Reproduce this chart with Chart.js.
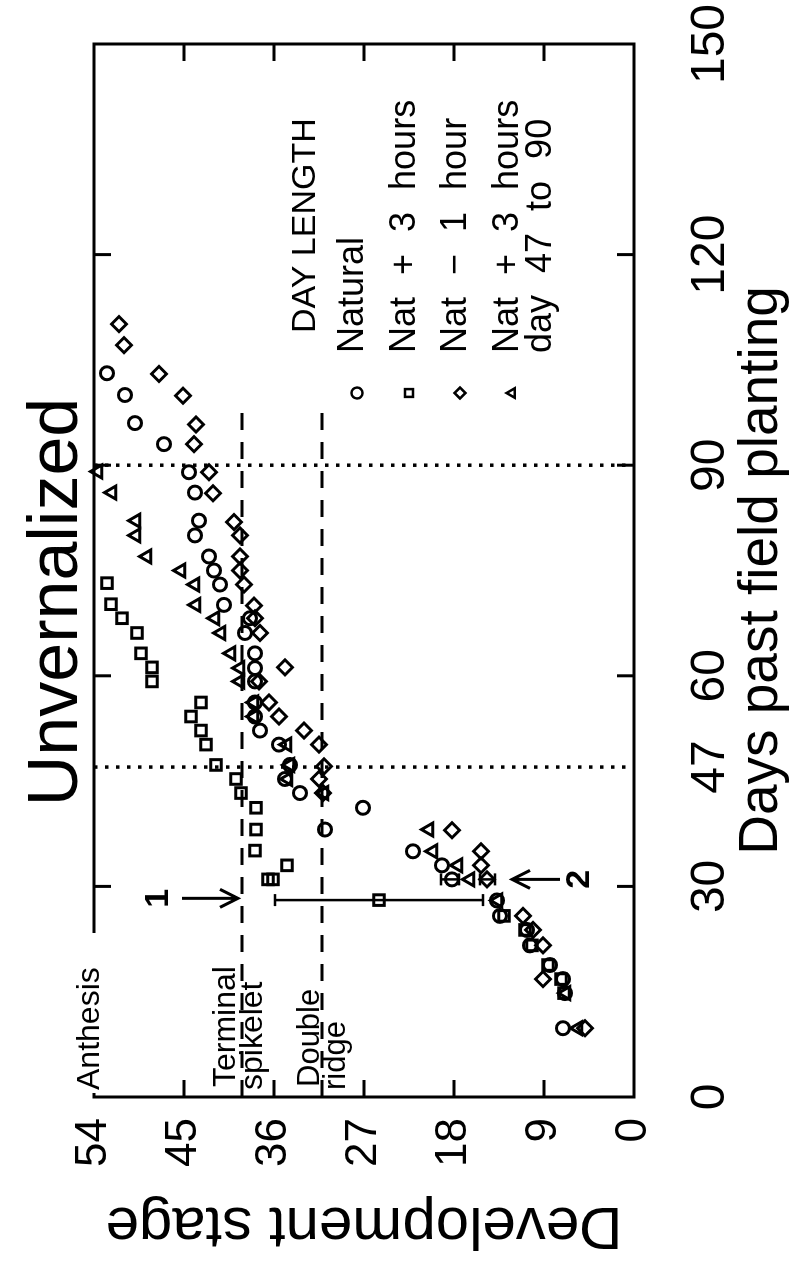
<!DOCTYPE html>
<html>
<head>
<meta charset="utf-8">
<script src="https://cdn.jsdelivr.net/npm/chart.js@4"></script>
<style>
  html, body { margin: 0; padding: 0; background: #fff; overflow: hidden; }
  /* the figure is printed turned a quarter turn, so draw it flat and rotate */
  #wrap { position: absolute; left: 0; top: 1271px; width: 1271px; height: 789px;
          transform-origin: 0 0; transform: rotate(-90deg); }
</style>
</head>
<body>
<div id="wrap"><canvas id="chart" width="1271" height="789"></canvas></div>
<script>
// Development stage vs days past field planting, unvernalized wheat.
const dayTicks = [0, 30, 47, 60, 90, 120, 150];
const stageTicks = [0, 9, 18, 27, 36, 45, 54];
const innerTickDays = [30, 60, 90, 120];
const innerTickStages = [9, 18, 27, 36, 45];

const seriesLabels = [["Natural"], ["Nat + 3 hours"], ["Nat \u2212 1 hour"], ["Nat + 3 hours", "day 47 to 90"]];

// Natural (circles)
const naturalDays = [103.1, 100, 96, 93, 89, 86.1, 82.1, 80, 77, 75, 73, 70.1, 68.2, 66.1, 63.2, 61.1, 59.2, 56.2, 54.2, 52.2, 50.2, 47.3, 45.3, 43.3, 41.2, 38.1, 35.0, 33.0, 31.0, 28.0, 25.8, 23.8, 21.6, 18.8, 16.8, 14.8, 9.8];
const naturalStage = [52.7, 50.9, 49.9, 47.0, 44.5, 43.9, 43.5, 43.9, 42.5, 42.0, 41.4, 41.0, 38.4, 38.9, 37.9, 37.9, 37.9, 37.9, 37.9, 37.4, 35.5, 34.4, 34.9, 33.4, 27.1, 30.9, 22.1, 19.2, 18.2, 13.7, 13.4, 10.7, 10.4, 8.4, 7.1, 6.9, 7.1];

// Nat + 3 hours (squares)
const plus3Days = [73.2, 70.2, 68.2, 66.1, 63.2, 61.2, 59.2, 56.2, 54.2, 52.2, 50.2, 47.3, 45.3, 43.3, 41.2, 38.1, 35.1, 33.0, 31.0, 31.0, 28.05, 25.8, 23.8, 21.6, 18.8, 16.8, 14.8];
const plus3Stage = [52.7, 52.3, 51.2, 49.7, 49.3, 48.2, 48.2, 43.3, 44.3, 43.3, 42.8, 41.8, 39.8, 39.3, 37.8, 37.8, 37.9, 34.7, 36.6, 36.1, 25.5, 13.0, 10.9, 10.2, 8.6, 7.3, 7.0];

// Nat - 1 hour (diamonds)
const minus1Days = [110.1, 107.1, 103, 99.9, 95.8, 93, 89, 86, 81.9, 80, 77, 75, 73, 70, 68.2, 66.1, 61.2, 59.2, 56.2, 54.2, 52.2, 50.2, 47.1, 45.3, 43.3, 38.0, 35.0, 33.0, 31.0, 25.8, 23.8, 21.6, 16.8, 9.8];
const minus1Stage = [51.5, 51.0, 47.5, 45.1, 43.8, 44.0, 42.5, 42.1, 40.0, 39.4, 39.4, 39.4, 39.0, 38.0, 37.9, 37.4, 34.9, 37.5, 36.5, 35.5, 33.0, 31.5, 31.0, 31.5, 31.1, 18.2, 15.3, 15.3, 14.7, 11.1, 10.1, 9.1, 9.1, 4.9];

// Nat + 3 hours from day 47 to 90 (triangles)
const switchDays = [89.1, 86.1, 82.1, 80, 77, 75, 73, 70.1, 68.2, 66.1, 63.2, 61.1, 59.2, 56.2, 54.2, 50.2, 47.3, 45.3, 43.3, 38.1, 35.0, 33.0, 31.0, 28.0, 14.8, 9.8];
const switchStage = [53.6, 52.2, 49.8, 49.8, 48.7, 45.3, 43.9, 43.8, 41.9, 41.3, 40.3, 39.4, 39.4, 38.0, 38.0, 34.7, 34.4, 34.6, 31.0, 20.5, 20.1, 17.6, 16.4, 13.6, 6.8, 5.6];

// stage reference lines (terminal spikelet, double ridge) and day markers
const stageLines = [39.2, 31.2];
const stageLineEndDay = 97.5;
const dottedDays = [47, 90];

// error bars
const errDays = [28.05, 31.0, 31.0];
const errLow = [15.1, 17.5, 13.9];
const errHigh = [35.9, 19.3, 15.4];

// arrows "1" and "2"
const arrowDays = [28.3, 31.0];
const arrowFrom = [45.2, 7.4];
const arrowTo = [39.6, 12.2];
const arrowText = ["1", "2"];
const arrowTextStage = [47.5, 5.4];

const FONT = "'Liberation Sans', Arial, sans-serif";
const pts = (d, s) => d.map((x, i) => ({ x, y: s[i] }));

const styles = [
  { pointStyle: "circle", radius: 6.5 },
  { pointStyle: "rect", radius: 7.5 },
  { pointStyle: "rectRot", radius: 7.5 },
  { pointStyle: "triangle", radius: 7.5 },
];
const seriesData = [
  pts(naturalDays, naturalStage),
  pts(plus3Days, plus3Stage),
  pts(minus1Days, minus1Stage),
  pts(switchDays, switchStage),
];

const datasets = seriesData.map((data, i) => ({
  label: seriesLabels[i].join(" "),
  data,
  showLine: false,
  clip: false,
  pointStyle: styles[i].pointStyle,
  pointRadius: styles[i].radius,
  pointHoverRadius: styles[i].radius,
  pointBorderWidth: 3,
  pointBorderColor: "#000",
  pointBackgroundColor: "rgba(0,0,0,0)",
}));

function text(ctx, str, u, v, size, align, weight) {
  ctx.font = (weight || "normal") + " " + size + "px " + FONT;
  ctx.textAlign = align || "left";
  ctx.fillText(str, u, v);
}

const decor = {
  id: "decor",
  beforeDatasetsDraw(chart) {
    const { ctx, scales: { x, y } } = chart;
    ctx.save();
    ctx.strokeStyle = "#000";
    ctx.lineCap = "butt";

    ctx.lineWidth = 3;
    ctx.setLineDash([17, 12]);
    stageLines.forEach((s) => {
      ctx.beginPath();
      ctx.moveTo(x.getPixelForValue(0), y.getPixelForValue(s));
      ctx.lineTo(x.getPixelForValue(stageLineEndDay), y.getPixelForValue(s));
      ctx.stroke();
    });

    ctx.lineWidth = 3.5;
    ctx.setLineDash([3.5, 7.5]);
    dottedDays.forEach((d) => {
      ctx.beginPath();
      ctx.moveTo(x.getPixelForValue(d), y.getPixelForValue(54));
      ctx.lineTo(x.getPixelForValue(d), y.getPixelForValue(0));
      ctx.stroke();
    });
    ctx.setLineDash([]);

    ctx.lineWidth = 2.5;
    errDays.forEach((d, i) => {
      const px = x.getPixelForValue(d);
      const lo = y.getPixelForValue(errLow[i]);
      const hi = y.getPixelForValue(errHigh[i]);
      ctx.beginPath();
      ctx.moveTo(px, lo); ctx.lineTo(px, hi);
      ctx.moveTo(px - 6, lo); ctx.lineTo(px + 6, lo);
      ctx.moveTo(px - 6, hi); ctx.lineTo(px + 6, hi);
      ctx.stroke();
    });
    ctx.restore();
  },
  afterDraw(chart) {
    const { ctx, chartArea: a, scales: { x, y } } = chart;
    ctx.save();
    ctx.strokeStyle = "#000";
    ctx.fillStyle = "#000";

    // frame and inward ticks
    ctx.lineWidth = 3;
    ctx.strokeRect(a.left, a.top, a.right - a.left, a.bottom - a.top);
    ctx.beginPath();
    innerTickDays.forEach((d) => {
      const px = x.getPixelForValue(d);
      ctx.moveTo(px, a.top); ctx.lineTo(px, a.top + 17);
      ctx.moveTo(px, a.bottom); ctx.lineTo(px, a.bottom - 17);
    });
    innerTickStages.forEach((s) => {
      const py = y.getPixelForValue(s);
      ctx.moveTo(a.left, py); ctx.lineTo(a.left + 17, py);
      ctx.moveTo(a.right, py); ctx.lineTo(a.right - 17, py);
    });
    ctx.stroke();

    // arrows with labels
    arrowDays.forEach((d, i) => {
      const px = x.getPixelForValue(d);
      const p0 = y.getPixelForValue(arrowFrom[i]);
      const p1 = y.getPixelForValue(arrowTo[i]);
      const dir = p1 > p0 ? 1 : -1;
      ctx.lineWidth = 3;
      ctx.beginPath();
      ctx.moveTo(px, p0); ctx.lineTo(px, p1);
      ctx.moveTo(px - 9, p1 - dir * 18); ctx.lineTo(px, p1); ctx.lineTo(px + 9, p1 - dir * 18);
      ctx.stroke();
      ctx.textBaseline = "middle";
      text(ctx, arrowText[i], px, y.getPixelForValue(arrowTextStage[i]), 34, "center", "bold");
    });
    ctx.textBaseline = "alphabetic";

    // stage names
    ctx.fillStyle = "#fff";
    ctx.fillRect(178, 86, 160, 14);
    ctx.fillStyle = "#000";
    text(ctx, "Anthesis", 181, 99, 32);
    text(ctx, "Terminal", 184, 235, 32);
    text(ctx, "spikelet", 181, 262, 32);
    text(ctx, "Double", 184, 319, 31);
    text(ctx, "ridge", 181, 345, 31);

    // title
    text(ctx, "Unvernalized", 669, 77, 70, "center");

    // key
    text(ctx, "DAY LENGTH", 938, 315, 34);
    const keyV = [357, 409, 460, 512];
    chart.data.datasets.forEach((ds, i) => {
      ctx.lineWidth = 2.5;
      ctx.fillStyle = "rgba(0,0,0,0)";
      Chart.helpers.drawPoint(ctx, { pointStyle: ds.pointStyle, radius: 5.5, borderWidth: 2.5, rotation: 0 }, 878, keyV[i]);
      ctx.fillStyle = "#000";
      ctx.wordSpacing = "12px";
      seriesLabels[i].forEach((line, k) => text(ctx, line, 918, keyV[i] + 6 + k * 33, 36));
      ctx.wordSpacing = "0px";
    });
    ctx.restore();
  },
};

new Chart(document.getElementById("chart"), {
  type: "scatter",
  data: { datasets },
  options: {
    responsive: false,
    animation: false,
    devicePixelRatio: 1,
    layout: { padding: { top: 94, right: 44, left: 0, bottom: 0 } },
    plugins: { legend: { display: false }, tooltip: { enabled: false }, title: { display: false } },
    scales: {
      x: {
        type: "linear", min: 0, max: 150, position: "bottom",
        afterBuildTicks: (s) => { s.ticks = dayTicks.map((v) => ({ value: v })); },
        afterFit: (s) => { s.height = 155; },
        grid: { display: false, drawTicks: false },
        border: { display: false },
        ticks: { color: "#000", padding: 0, autoSkip: false, maxRotation: 0,
                 font: { family: FONT, size: 48, lineHeight: 3.2 } },
        title: { display: true, text: "Days past field planting", color: "#000",
                 font: { family: FONT, size: 55, lineHeight: 1 }, padding: 0 },
      },
      y: {
        type: "linear", min: 0, max: 54,
        afterBuildTicks: (s) => { s.ticks = stageTicks.map((v) => ({ value: v })); },
        afterFit: (s) => { s.width = 174; },
        grid: { display: false, drawTicks: false },
        border: { display: false },
        ticks: { color: "#000", padding: 21, font: { family: FONT, size: 44, lineHeight: 1 } },
        title: { display: true, text: "Development stage", color: "#000",
                 font: { family: FONT, size: 60, lineHeight: 1 }, padding: { top: 16, bottom: 0 } },
      },
    },
  },
  plugins: [decor],
});
</script>
</body>
</html>
